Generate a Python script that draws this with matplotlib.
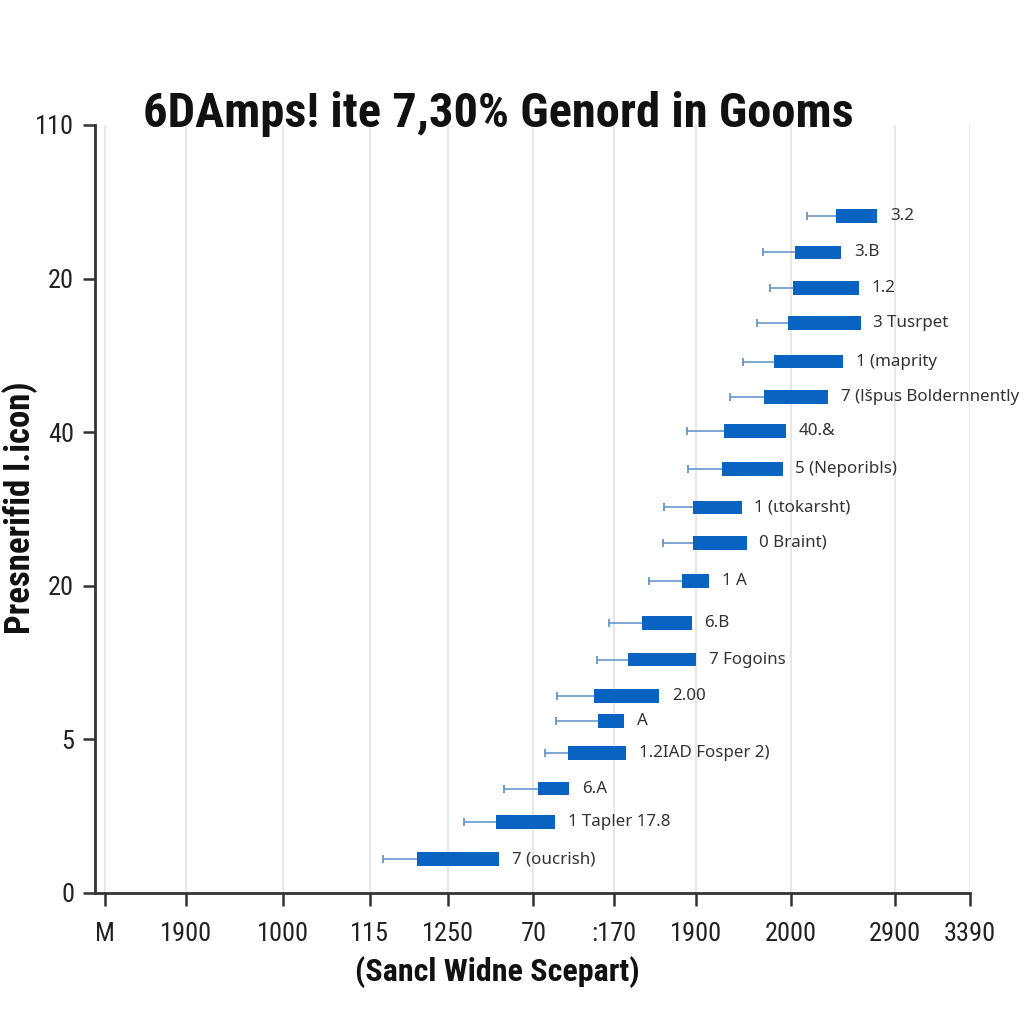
import matplotlib
matplotlib.use("Agg")
import matplotlib.pyplot as plt
from matplotlib import font_manager

# pick a narrow grotesque if one is installed, else a compact sans
names = {f.name for f in font_manager.fontManager.ttflist}
narrow_opts = [n for n in ["Liberation Sans Narrow", "DejaVu Sans Condensed",
                           "Roboto Condensed", "Open Sans Condensed"] if n in names]
narrow_opts += sorted(n for n in names if ("Condensed" in n or "Narrow" in n)
                      and n not in narrow_opts)
narrow = narrow_opts[0] if narrow_opts else "Roboto"
plain = "Noto Sans"

# data (row position, whisker low, bar start, bar end, label)
ypos = [4.41, 4.17, 3.94, 3.71, 3.46, 3.23, 3.01, 2.76, 2.51, 2.28,
        2.03, 1.76, 1.52, 1.28, 1.12, 0.91, 0.68, 0.46, 0.22]
whisk_lo = [814, 763, 771, 757, 741, 726, 677, 678, 650, 649,
            633, 587, 574, 528, 527, 514, 467, 422, 329]
bar_start = [847, 800, 798, 792, 776, 765, 719, 717, 683, 683,
             671, 625, 609, 570, 575, 541, 506, 458, 368]
bar_end = [894, 853, 873, 875, 855, 838, 790, 786, 739, 745,
           702, 682, 687, 645, 605, 607, 542, 526, 462]
labels = ["3.2", "3.B", "1.2", "3 Tusrpet", "1 (maprity",
          "7 (l\u0161pus Boldernnently", "40.&", "5 (Neporibls)",
          "1 (\u03b9tokarsht)", "0 Braint)", "1 A", "6.B", "7 Fogoins",
          "2.00", "A", "1.2IAD Fosper 2)", "6.A", "1 Tapler 17.8",
          "7 (oucrish)"]

xtick_pos = [11, 104, 215, 314, 403, 501, 593, 687, 795, 914, 1000]
xtick_lab = ["M", "1900", "1000", "115", "1250", "70", ":170", "1900",
             "2000", "2900", "3390"]
ytick_pos = [0, 1, 2, 3, 4, 5]
ytick_lab = ["0", "5", "20", "40", "20", "110"]

bar_col = "#0b63c1"
whisk_col = "#5b8fc4"
is_narrow = narrow != "Roboto"

fig = plt.figure(figsize=(10.24, 10.24), dpi=100)
ax = fig.add_axes([95/1024, 131/1024, 875/1024, 768/1024])

for x in xtick_pos:
    ax.axvline(x, color="#e3e3e3", lw=1.2, zorder=0)

widths = [e - s for s, e in zip(bar_start, bar_end)]
ax.barh(ypos, widths, left=bar_start, height=0.09, color=bar_col, zorder=3)
ax.hlines(ypos, whisk_lo, bar_start, color=whisk_col, lw=1.1, zorder=2)
ax.plot(whisk_lo, ypos, ls="none", marker="|", ms=6, mew=1.2,
        color=whisk_col, zorder=2)

for y, e, t in zip(ypos, bar_end, labels):
    ax.annotate(t, (e, y), xytext=(9, 0), textcoords="offset points",
                va="center", ha="left", fontsize=12.2, color="#333333",
                family=plain)

tick_fs = 19 if is_narrow else 16.5
ax.set_xlim(0, 1000)
ax.set_ylim(0, 5)
ax.set_xticks(xtick_pos)
ax.set_xticklabels(xtick_lab, family=narrow, fontsize=tick_fs, color="#222222")
ax.set_yticks(ytick_pos)
ax.set_yticklabels(ytick_lab, family=narrow, fontsize=tick_fs, color="#222222")
ax.tick_params(axis="both", length=9, width=1.8, color="#333333", pad=6)
ax.tick_params(axis="x", pad=12)
for s in ["top", "right"]:
    ax.spines[s].set_visible(False)
for s in ["left", "bottom"]:
    ax.spines[s].set_linewidth(2)
    ax.spines[s].set_color("#333333")

fig.text(0.487, 1 - 127/1024, "6DAmps! ite 7,30% Genord in Gooms",
         ha="center", va="baseline", fontsize=35 if is_narrow else 30,
         fontweight="bold", family=narrow, color="#111111")
fig.text(0.020, 0.504, "Presnerifid l.icon)", rotation=90, ha="center",
         va="center", fontsize=25 if is_narrow else 20, fontweight="bold",
         family=narrow, color="#111111")
fig.text(0.486, 0.051, "(Sancl Widne Scepart)", ha="center", va="center",
         fontsize=23 if is_narrow else 20, fontweight="bold", family=narrow,
         color="#111111")

fig.savefig("out.png", dpi=100, facecolor="white")
